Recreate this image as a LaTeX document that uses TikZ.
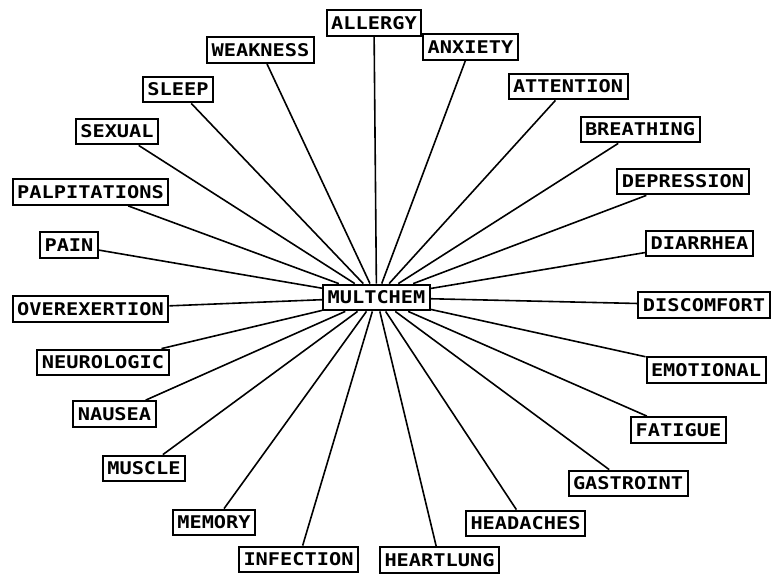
\documentclass[tikz,border=0pt]{standalone}
\usepackage{fontspec}
\newfontfamily\pixfont[FakeStretch=1.16]{DejaVu Sans Mono}
\tikzset{
  sym/.style={draw=black, line width=2pt, fill=white, inner xsep=4.5pt, inner ysep=6.5pt,
    text height=12.8pt, text depth=0pt, font=\pixfont\bfseries\fontsize{17.5}{18}\selectfont},
  link/.style={draw=black, line width=1.6pt}
}
\begin{document}
\begin{tikzpicture}[x=1pt,y=-1pt]
\useasboundingbox (0,0) rectangle (771,574);
\clip (0,0) rectangle (771,574);
\node[sym] (m) at (376.5,297.5) {MULTCHEM};
\node[sym] (allergy) at (374,23) {ALLERGY};
\node[sym] (anxiety) at (470.5,47) {ANXIETY};
\node[sym] (attention) at (568,86.5) {ATTENTION};
\node[sym] (breathing) at (640,129.5) {BREATHING};
\node[sym] (depression) at (683,181.5) {DEPRESSION};
\node[sym] (diarrhea) at (699.5,243.5) {DIARRHEA};
\node[sym] (discomfort) at (704,305) {DISCOMFORT};
\node[sym] (emotional) at (706,370) {EMOTIONAL};
\node[sym] (fatigue) at (678.5,430) {FATIGUE};
\node[sym] (gastroint) at (628,483.5) {GASTROINT};
\node[sym] (headaches) at (525.5,523.5) {HEADACHES};
\node[sym] (heartlung) at (439.5,560) {HEARTLUNG};
\node[sym] (infection) at (298.5,559.5) {INFECTION};
\node[sym] (memory) at (214,522.5) {MEMORY};
\node[sym] (muscle) at (144,468.5) {MUSCLE};
\node[sym] (nausea) at (114.5,414) {NAUSEA};
\node[sym] (neurologic) at (103,362.5) {NEUROLOGIC};
\node[sym] (overexertion) at (90.5,309) {OVEREXERTION};
\node[sym] (pain) at (69,245) {PAIN};
\node[sym] (palpitations) at (90.5,192) {PALPITATIONS};
\node[sym] (sexual) at (117,131.5) {SEXUAL};
\node[sym] (sleep) at (178,89.5) {SLEEP};
\node[sym] (weakness) at (260.5,50) {WEAKNESS};
\foreach \n in {allergy,anxiety,attention,breathing,depression,diarrhea,discomfort,emotional,fatigue,gastroint,headaches,heartlung,infection,memory,muscle,nausea,neurologic,overexertion,pain,palpitations,sexual,sleep,weakness}
  \draw[link] (m) -- (\n);
\end{tikzpicture}
\end{document}
